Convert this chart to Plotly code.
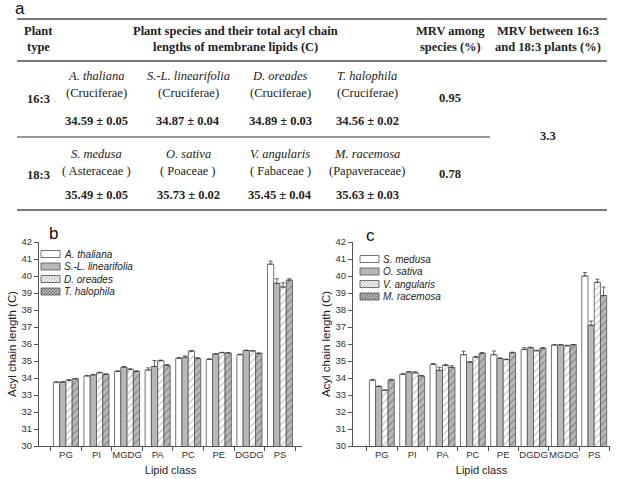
import plotly.graph_objects as go

W, H = 620, 479

# ---------------- data ----------------
lipids_b = ["PG", "PI", "MGDG", "PA", "PC", "PE", "DGDG", "PS"]
species_b = ["A. thaliana", "S.-L. linearifolia", "D. oreades", "T. halophila"]
vals_b = {
    "A. thaliana":        [33.75, 34.12, 34.39, 34.47, 35.16, 35.10, 35.37, 40.70],
    "S.-L. linearifolia": [33.76, 34.18, 34.64, 34.68, 35.22, 35.41, 35.62, 39.57],
    "D. oreades":         [33.87, 34.31, 34.51, 35.02, 35.58, 35.49, 35.59, 39.35],
    "T. halophila":       [33.95, 34.22, 34.39, 34.75, 35.16, 35.47, 35.45, 39.76],
}
errs_b = {
    "A. thaliana":        [0.02, 0.03, 0.03, 0.13, 0.04, 0.02, 0.03, 0.18],
    "S.-L. linearifolia": [0.02, 0.03, 0.04, 0.35, 0.08, 0.03, 0.02, 0.27],
    "D. oreades":         [0.03, 0.03, 0.03, 0.03, 0.04, 0.02, 0.03, 0.25],
    "T. halophila":       [0.02, 0.02, 0.03, 0.04, 0.03, 0.02, 0.02, 0.08],
}

lipids_c = ["PG", "PI", "PA", "PC", "PE", "DGDG", "MGDG", "PS"]
species_c = ["S. medusa", "O. sativa", "V. angularis", "M. racemosa"]
vals_c = {
    "S. medusa":    [33.87, 34.22, 34.80, 35.37, 35.37, 35.68, 35.94, 40.00],
    "O. sativa":    [33.50, 34.36, 34.45, 34.93, 35.15, 35.78, 35.95, 37.10],
    "V. angularis": [33.27, 34.30, 34.74, 35.23, 35.08, 35.60, 35.90, 39.63],
    "M. racemosa":  [33.89, 34.12, 34.62, 35.46, 35.49, 35.75, 35.95, 38.85],
}
errs_c = {
    "S. medusa":    [0.05, 0.03, 0.05, 0.20, 0.22, 0.10, 0.02, 0.20],
    "O. sativa":    [0.03, 0.02, 0.18, 0.03, 0.03, 0.03, 0.02, 0.25],
    "V. angularis": [0.03, 0.07, 0.06, 0.03, 0.03, 0.03, 0.03, 0.18],
    "M. racemosa":  [0.03, 0.03, 0.10, 0.03, 0.03, 0.03, 0.02, 0.50],
}

# table text
tbl_header_type = ["Plant", "type"]
tbl_header_species = ["Plant species and their total acyl chain", "lengths of membrane lipids (C)"]
tbl_header_mrv1 = ["MRV among", "species (%)"]
tbl_header_mrv2 = ["MRV between 16:3", "and 18:3 plants (%)"]
row_types = ["16:3", "18:3"]
row_species = [["A. thaliana", "S.-L. linearifolia", "D. oreades", "T. halophila"],
               ["S. medusa", "O. sativa", "V. angularis", "M. racemosa"]]
row_families = [["(Cruciferae)", "(Cruciferae)", "(Cruciferae)", "(Cruciferae)"],
                ["( Asteraceae )", "( Poaceae )", "( Fabaceae )", "(Papaveraceae)"]]
row_totals = [["34.59 ± 0.05", "34.87 ± 0.04", "34.89 ± 0.03", "34.56 ± 0.02"],
              ["35.49 ± 0.05", "35.73 ± 0.02", "35.45 ± 0.04", "35.63 ± 0.03"]]
row_mrv = ["0.95", "0.78"]
mrv_between = "3.3"

# ---------------- styles ----------------
GRAY = "#b8b8b8"
styles = [
    dict(color="white", hatch=None),
    dict(color=GRAY, hatch=None),
    dict(color="white", hatch="#8a8a8a"),
    dict(color=GRAY, hatch="#555555"),
]
OUTLINE = "#505050"


def px(x):
    return x / W


def py(y):
    return 1 - y / H


fig = go.Figure()

for (lip, spp, vals, errs, xa, ya) in [
    (lipids_b, species_b, vals_b, errs_b, "x", "y"),
    (lipids_c, species_c, vals_c, errs_c, "x2", "y2"),
]:
    for i, sp in enumerate(spp):
        st = styles[i]
        marker = dict(color=st["color"], line=dict(color=OUTLINE, width=0.8))
        if st["hatch"]:
            marker["pattern"] = dict(shape="/", fgcolor=st["hatch"], bgcolor=st["color"],
                                     size=5, solidity=0.25)
        fig.add_trace(go.Bar(
            x=lip, y=vals[sp], name=sp,
            marker=marker, showlegend=False,
            error_y=dict(type="data", array=errs[sp], arrayminus=[0] * len(lip),
                         symmetric=False, color="#404040", thickness=0.8, width=2),
            xaxis=xa, yaxis=ya,
        ))

SANS = "Liberation Sans, Arial"
axis_font = dict(family=SANS, size=9.5, color="#333")
common_x = dict(type="category", showline=True, linecolor="#555", linewidth=1,
                ticks="outside", ticklen=4, tickcolor="#555", tickson="boundaries",
                tickangle=0, tickfont=axis_font, showgrid=False, zeroline=False,
                automargin=False,
                title=dict(text="Lipid class", font=dict(family=SANS, size=11, color="#222"), standoff=6))
common_y = dict(range=[30, 42], dtick=1, showline=True, linecolor="#555", linewidth=1,
                ticks="outside", ticklen=4, tickcolor="#555", tickfont=axis_font,
                showgrid=False, zeroline=False, automargin=False,
                title=dict(text="Acyl chain length (C)", font=dict(family=SANS, size=11.5, color="#222"), standoff=2))

fig.update_layout(
    width=W, height=H,
    margin=dict(l=0, r=0, t=0, b=0),
    paper_bgcolor="white", plot_bgcolor="white",
    barmode="group", bargap=0.18, bargroupgap=0,
    xaxis=dict(common_x, domain=[px(39), px(302)], range=[-0.88, 7.72], anchor="y"),
    yaxis=dict(common_y, domain=[py(446), py(242)], anchor="x"),
    xaxis2=dict(common_x, domain=[px(353), px(610)], range=[-0.95, 7.52], anchor="y2"),
    yaxis2=dict(common_y, domain=[py(446), py(242)], anchor="x2"),
    showlegend=False,
)

ann = []
shapes = []

# ---------------- custom legends (swatches + labels) ----------------
def hatch_path(x0, y0, x1, y1, step=3.0):
    w, h = x1 - x0, y1 - y0
    parts = []
    d = -h
    while d < w:
        t0 = max(0.0, -d)
        t1 = min(h, w - d)
        if t1 > t0:
            ax, ay = x0 + d + t0, y1 - t0
            bx, by = x0 + d + t1, y1 - t1
            parts.append("M %.5f %.5f L %.5f %.5f" % (px(ax), py(ay), px(bx), py(by)))
        d += step
    return " ".join(parts)


def add_legend(spp, x0, ys):
    for i, sp in enumerate(spp):
        st = styles[i]
        y = ys[i]
        sx0, sx1, sy0, sy1 = x0, x0 + 19, y - 3.5, y + 3.5
        shapes.append(dict(type="rect", xref="paper", yref="paper",
                           x0=px(sx0), x1=px(sx1), y0=py(sy1), y1=py(sy0),
                           fillcolor=st["color"], line=dict(width=0)))
        if st["hatch"]:
            shapes.append(dict(type="path", xref="paper", yref="paper",
                               path=hatch_path(sx0, sy0, sx1, sy1),
                               line=dict(color=st["hatch"], width=0.8)))
        shapes.append(dict(type="rect", xref="paper", yref="paper",
                           x0=px(sx0), x1=px(sx1), y0=py(sy1), y1=py(sy0),
                           fillcolor="rgba(0,0,0,0)", line=dict(color=OUTLINE, width=0.8)))
        ann.append(dict(text="<i>" + sp + "</i>", x=px(sx1 + 2), y=py(y), xref="paper", yref="paper",
                        showarrow=False, xanchor="left", yanchor="middle",
                        font=dict(family=SANS, size=10, color="#222")))


add_legend(species_b, 41, [254, 266.5, 279, 291.5])
add_legend(species_c, 360, [259, 271.5, 284, 296.5])

# ---------------- panel labels ----------------
for lab, x, y in [("a", 20, 9), ("b", 53, 233), ("c", 370, 235)]:
    ann.append(dict(text=lab, x=px(x), y=py(y), xref="paper", yref="paper", showarrow=False,
                    xanchor="center", yanchor="middle",
                    font=dict(family=SANS, size=17, color="#111")))

# ---------------- table ----------------
SERIF = "Liberation Serif, Times New Roman"
TFS = 12.5
DY = -1


def tt(text, x, y, bold=False, italic=False):
    t = text
    if bold:
        t = "<b>" + t + "</b>"
    if italic:
        t = "<i>" + t + "</i>"
    ann.append(dict(text=t, x=px(x), y=py(y + DY), xref="paper", yref="paper", showarrow=False,
                    xanchor="center", yanchor="middle",
                    font=dict(family=SERIF, size=TFS, color="#222")))


for k, line in enumerate(tbl_header_type):
    tt(line, 38, 32 + 16 * k, bold=True)
for k, line in enumerate(tbl_header_species):
    tt(line, 235, 32 + 16 * k, bold=True)
for k, line in enumerate(tbl_header_mrv1):
    tt(line, 450, 32 + 16 * k, bold=True)
for k, line in enumerate(tbl_header_mrv2):
    tt(line, 548, 32 + 16 * k, bold=True)

col_x = [96, 188, 280, 367]
row_y = [(77, 94, 122, 100), (155, 172, 196, 176)]
for r in range(2):
    ys, yf, yv, yt = row_y[r]
    tt(row_types[r], 38, yt, bold=True)
    for c in range(4):
        tt(row_species[r][c], col_x[c], ys, italic=True)
        tt(row_families[r][c], col_x[c], yf)
        tt(row_totals[r][c], col_x[c], yv, bold=True)
    tt(row_mrv[r], 450, yt - 1, bold=True)
tt(mrv_between, 548, 137, bold=True)

for y, x0, x1, col, w in [(19, 17, 607, "#7a7a7a", 2), (61, 17, 607, "#7a7a7a", 2),
                          (137, 17, 490, "#333", 1.2), (210, 17, 607, "#7a7a7a", 2)]:
    shapes.append(dict(type="line", xref="paper", yref="paper", x0=px(x0), x1=px(x1),
                       y0=py(y), y1=py(y), line=dict(color=col, width=w)))

fig.update_layout(annotations=ann, shapes=shapes)

fig.write_html("out.html", config={"displayModeBar": False},
               post_script="document.body.style.margin='0px';document.body.style.overflow='hidden';")
